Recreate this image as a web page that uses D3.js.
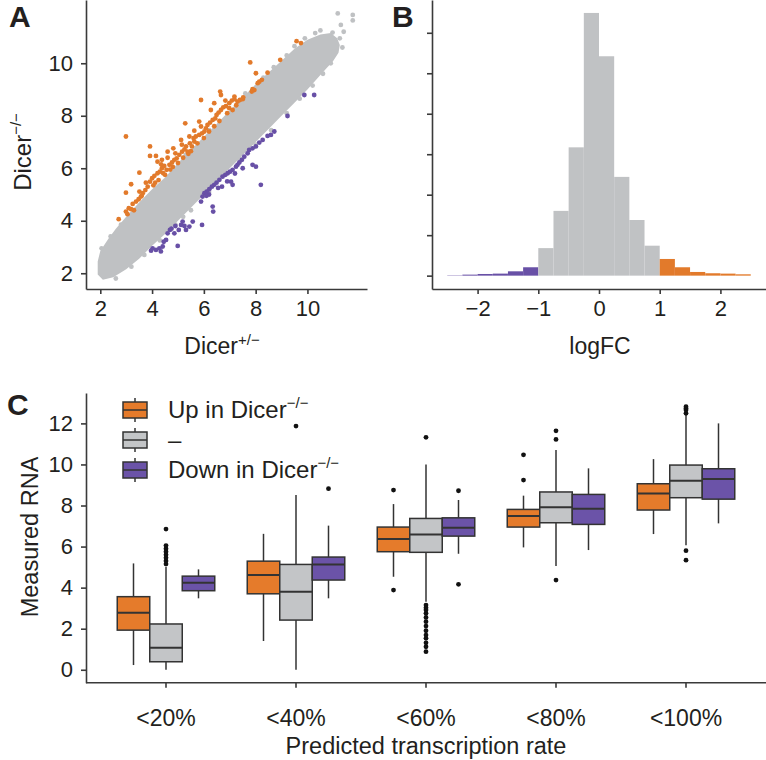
<!DOCTYPE html>
<html><head><meta charset="utf-8">
<script src="https://cdn.jsdelivr.net/npm/d3@7"></script>
<style>
body{margin:0;background:#fff}
svg{display:block}
text{font-family:"Liberation Sans",Arial,Helvetica,sans-serif;fill:#231f20}
.axis path,.axis line{stroke:#3a3a3a;stroke-width:1.6}
</style>
</head><body><svg id="c" width="766" height="760"></svg>
<script>
// ---------- DATA ----------
// Panel A: scatter (Dicer+/- vs Dicer-/-)
const greyBandUpper = [[1.9,2.45],[2.0,2.85],[2.3,3.3],[2.6,3.7],[3.0,4.15],[3.5,4.7],[4.0,5.2],[4.5,5.65],[5.0,6.2],[5.5,6.7],[6.0,7.2],[6.5,7.7],[7.0,8.2],[7.5,8.7],[8.0,9.2],[8.5,9.65],[9.0,10.1],[9.5,10.55],[10.0,10.9],[10.5,11.1],[10.9,11.15],[11.15,10.95],[11.25,10.7]];
const greyBandLower = [[11.2,10.4],[11.0,10.1],[10.5,9.55],[10.0,9.0],[9.5,8.5],[9.0,8.0],[8.5,7.5],[8.0,7.0],[7.5,6.5],[7.0,6.0],[6.5,5.5],[6.0,5.0],[5.5,4.5],[5.0,4.0],[4.5,3.5],[4.0,3.05],[3.5,2.55],[3.0,2.15],[2.5,1.85],[2.1,1.75],[1.9,1.95]];
const greyPoints = [[2.05,2.95],[2.4,3.4],[2.8,3.85],[3.3,4.4],[8.3,9.45],[8.7,9.85],[9.2,10.3],[9.5,10.65],[9.9,10.95],[10.3,11.15],[10.5,11.25],[6.2,7.45],[5.3,6.5],[7.6,8.85],
 [2.6,1.8],[3.2,2.25],[3.7,2.7],[4.3,3.25],[4.9,3.85],[5.5,4.4],[6.2,5.1],[6.8,5.75],[7.4,6.35],[8.0,6.9],[8.6,7.45],[9.2,8.1],[9.7,8.65],[10.2,9.15],[10.6,9.6],[10.9,10.0],[5.2,4.15],[7.7,6.65],
 [11.17,11.9],[11.75,11.84],[11.75,11.63],[11.29,11.46],[11.25,10.95],[10.97,11.17],[11.4,11.2],[11.35,10.6],[11.0,10.45]];
const upPoints = [[2.71,4.06],[2.99,4.35],[3.10,4.48],[3.19,4.44],[3.25,4.64],[3.38,4.73],[3.48,4.82],[3.57,4.92],[3.51,5.11],[3.64,5.05],[3.74,5.17],[3.83,5.30],[3.76,5.45],[3.92,5.49],[4.00,5.62],[4.09,5.71],[4.12,5.45],[4.21,5.81],[4.30,5.87],[4.38,6.00],[4.47,6.09],[4.43,5.81],[4.56,5.94],[4.67,6.13],[4.77,6.22],[4.86,6.32],[4.95,6.38],[4.90,6.57],[5.05,6.51],[5.16,6.63],[5.25,6.72],[5.31,6.83],[5.37,6.63],[5.46,6.95],[5.54,6.83],[5.63,7.02],[5.69,7.21],[5.82,7.27],[5.93,7.33],[6.02,7.40],[5.89,7.59],[6.08,7.52],[6.14,7.65],[6.24,7.74],[6.34,7.84],[6.44,7.90],[6.49,8.03],[6.57,8.12],[6.66,8.22],[6.75,8.32],[6.85,8.37],[6.98,8.48],[7.08,8.58],[7.18,8.63],[7.30,8.54],[7.39,8.60],[6.98,8.29],[7.11,8.22],
 [2.99,7.21],[2.99,5.07],[3.19,5.39],[3.51,5.83],[3.92,6.83],[3.92,6.47],[4.15,6.47],[4.21,6.25],[4.38,6.32],[4.60,6.63],[4.82,6.76],[5.12,7.08],[5.28,7.71],[5.44,7.21],[5.63,7.43],[5.82,7.78],[5.89,8.60],[6.27,8.22],[6.40,8.48],[6.63,8.92],[6.66,8.79],[6.83,8.58],[7.18,8.73],[7.50,8.63],[7.79,10.03],[7.95,8.98],[8.14,9.30],[8.24,9.37],[8.46,9.64],[8.95,10.13],[9.58,10.84],[9.75,10.77],[7.88,9.01],[8.08,9.24],[8.01,9.62],[7.85,8.92],[7.52,8.70],
 [3.30,4.40],[3.05,4.25],[3.6,4.95],[4.05,5.35],[4.25,5.55],[4.5,5.75],[4.7,5.95],[4.8,6.05],[5.0,6.2],[5.2,6.4],[5.4,6.55],[5.5,6.65],[5.75,6.95],[6.0,7.15],[6.2,7.4],[6.4,7.6],[6.6,7.8],[6.9,8.1],[7.25,8.4],[4.35,6.15],[4.6,6.4],[5.15,6.9],[5.6,7.15]];
const downPoints = [[9.88,8.79],[10.26,8.79],[9.23,7.99],[8.72,7.40],[8.59,7.27],[8.46,7.23],[8.27,7.08],[8.14,6.98],[8.01,6.83],[7.88,6.76],[7.75,6.70],[7.69,6.57],[7.56,6.44],[7.47,6.32],[7.37,6.22],[7.30,6.13],[7.24,6.06],[7.11,5.94],[7.01,5.87],[6.92,5.81],[6.83,5.75],[6.72,5.68],[6.60,5.56],[6.49,5.45],[6.40,5.37],[6.31,5.30],[6.21,5.20],[6.11,5.11],[6.02,5.05],[5.95,4.92],[5.89,4.73],[6.34,4.54],[6.36,4.35],[5.93,3.84],[5.57,3.97],[5.44,3.78],[5.31,3.65],[5.18,3.97],[5.12,3.84],[5.03,3.65],[4.86,3.52],[4.69,3.65],[4.60,3.52],[4.54,3.27],[4.41,3.02],[4.28,2.95],[4.15,2.89],[4.02,2.95],[3.96,2.86],[4.34,2.83],[4.99,3.04],[7.88,6.13],[8.01,6.06],[8.20,5.37],[7.05,5.49],[7.11,5.37],[7.5,6.0],[7.2,5.8],[6.7,5.3],[6.9,5.5],[6.55,5.25],[6.2,5.0],[6.1,4.95],[4.75,3.7],[4.9,3.8],[4.45,3.2],[5.25,3.8]];
const ticksA = [2,4,6,8,10];

// Panel B: histogram of logFC (bin start, count)
const binStarts = [-2.5,-2.25,-2.0,-1.75,-1.5,-1.25,-1.0,-0.75,-0.5,-0.25,0,0.25,0.5,0.75,1.0,1.25,1.5,1.75,2.0,2.25];
const binCounts = [8,25,41,50,107,207,680,1600,3170,6490,5420,2440,1375,740,412,207,91,59,50,33];
const binWidth = 0.25;
const ticksBx = [-2,-1,0,1,2];
const ticksBy = [0,1000,2000,3000,4000,5000,6000];

// Panel C: boxplots [lowWhisker, q1, median, q3, highWhisker]
const categories = ["<20%","<40%","<60%","<80%","<100%"];
const seriesNames = ["up","none","down"];
const upStats = [[0.23,1.93,2.78,3.56,5.18],[1.40,3.70,4.61,5.29,6.62],[4.53,5.75,6.37,6.95,8.07],[5.96,6.95,7.49,7.81,8.48],[6.61,7.78,8.59,9.06,10.26]];
const noneStats = [[0.0,0.39,1.07,2.23,5.0],[0.0,2.42,3.80,5.13,8.51],[3.31,5.72,6.59,7.37,10.0],[5.05,7.16,7.91,8.66,10.70],[6.07,8.38,9.21,9.97,12.41]];
const downStats = [[3.48,3.85,4.24,4.56,4.89],[3.48,4.37,5.13,5.49,7.02],[5.65,6.51,6.92,7.40,8.27],[5.83,7.08,7.84,8.54,9.81],[7.13,8.31,9.29,9.79,12.0]];
const upOutliers = [[],[],[8.75,3.88],[9.24,10.47],[]];
const noneOutliers = [[5.15,5.3,5.45,5.6,5.75,5.9,6.05,6.85],[11.87],[11.32,3.15,3.02,2.91,2.75,2.55,2.34,2.13,1.90,1.69,1.53,1.31,1.12,0.88],[11.22,11.64,4.37],[12.49,12.65,12.73,12.81,5.80,5.34]];
const downOutliers = [[],[8.82],[8.72,4.16],[],[]];
const ticksCy = [0,2,4,6,8,10,12];
const legendLabels = ["Up in Dicer","\u2013","Down in Dicer"];

// colors
const cOrange = "#e27a2b", cGrey = "#bfc1c3", cPurple = "#6850a6";
const boxFill = {up:"#e57b2b", none:"#c3c5c7", down:"#6b53a8"};

// ---------- DRAW ----------
const svg = d3.select("#c");

function styleAxis(g, fs){
  g.attr("class","axis");
  g.selectAll("text").style("font-size",fs+"px").attr("fill","#231f20");
}

// Panel A
const xA = d3.scaleLinear().domain([1.448,12.3]).range([86,367]);
const yA = d3.scaleLinear().domain([1.40,12.41]).range([289,0]);
const gA = svg.append("g");
const band = greyBandUpper.concat(greyBandLower);
gA.append("path").attr("d", d3.line().x(d=>xA(d[0])).y(d=>yA(d[1])).curve(d3.curveLinearClosed)(band))
  .attr("fill", cGrey);
gA.selectAll("circle.g").data(greyPoints).join("circle").attr("class","g")
  .attr("cx",d=>xA(d[0])).attr("cy",d=>yA(d[1])).attr("r",2.4).attr("fill",cGrey);
gA.selectAll("circle.u").data(upPoints).join("circle").attr("class","u")
  .attr("cx",d=>xA(d[0])).attr("cy",d=>yA(d[1])).attr("r",2.4).attr("fill",cOrange);
gA.selectAll("circle.d").data(downPoints).join("circle").attr("class","d")
  .attr("cx",d=>xA(d[0])).attr("cy",d=>yA(d[1])).attr("r",2.4).attr("fill",cPurple);
gA.append("g").attr("transform","translate(0,289)")
  .call(d3.axisBottom(xA).tickValues(ticksA).tickSize(5).tickSizeOuter(0).tickPadding(6))
  .call(g=>styleAxis(g,22));
gA.append("g").attr("transform","translate(86,0)")
  .call(d3.axisLeft(yA).tickValues(ticksA).tickSize(5).tickSizeOuter(0).tickPadding(8))
  .call(g=>styleAxis(g,22));
// titles A
const tA = gA.append("text").attr("x",222).attr("y",354).attr("text-anchor","middle").style("font-size","23px");
tA.append("tspan").text("Dicer");
tA.append("tspan").text("+/\u2212").attr("dy",-9).style("font-size","15px");
const tAy = gA.append("text").attr("transform","translate(31,152) rotate(-90)").attr("text-anchor","middle").style("font-size","24px");
tAy.append("tspan").text("Dicer");
tAy.append("tspan").text("\u2212/\u2212").attr("dy",-10).style("font-size","15px");
svg.append("text").attr("x",9).attr("y",27).text("A").style("font-size","30px").style("font-weight","bold");

// Panel B
const xB = d3.scaleLinear().domain([-2.751,2.751]).range([432,766]);
const yB = d3.scaleLinear().domain([-330,6810]).range([289,0]);
const gB = svg.append("g");
const binColor = s => (s + binWidth <= -1 + 1e-9) ? cPurple : (s >= 1 - 1e-9 ? cOrange : "#c0c2c4");
gB.selectAll("rect").data(binStarts.map((s,i)=>({s,c:binCounts[i]}))).join("rect")
  .attr("x",d=>xB(d.s)).attr("width",d=>xB(d.s+binWidth)-xB(d.s))
  .attr("y",d=>yB(d.c)).attr("height",d=>yB(0)-yB(d.c))
  .attr("fill",d=>binColor(d.s));
gB.append("g").attr("transform","translate(0,289)")
  .call(d3.axisBottom(xB).tickValues(ticksBx).tickFormat(d=>d<0?"\u2212"+Math.abs(d):d).tickSize(5).tickSizeOuter(0).tickPadding(6))
  .call(g=>styleAxis(g,22));
gB.append("g").attr("transform","translate(432,0)")
  .call(d3.axisLeft(yB).tickValues(ticksBy).tickFormat("").tickSize(5).tickSizeOuter(0))
  .call(g=>styleAxis(g,22));
gB.append("text").attr("x",600).attr("y",354).attr("text-anchor","middle").style("font-size","23px").text("logFC");
svg.append("text").attr("x",392).attr("y",27).text("B").style("font-size","30px").style("font-weight","bold");

// Panel C
const xC = d3.scaleBand().domain(categories).range([101,751]);
const xSub = d3.scaleBand().domain(seriesNames).range([-48.75,48.75]);
const yC = d3.scaleLinear().domain([-0.63,13.48]).range([682.7,393]);
const gC = svg.append("g");
const statsBy = {up:upStats, none:noneStats, down:downStats};
const outBy = {up:upOutliers, none:noneOutliers, down:downOutliers};
const boxes = [];
categories.forEach((c,i)=>seriesNames.forEach(s=>boxes.push({c,s,st:statsBy[s][i],out:outBy[s][i]})));
const bx = gC.selectAll("g.box").data(boxes).join("g").attr("class","box")
  .attr("transform",d=>`translate(${xC(d.c)+xC.bandwidth()/2+xSub(d.s)},0)`);
const bw = xSub.bandwidth();
bx.append("line").attr("x1",bw/2).attr("x2",bw/2).attr("y1",d=>yC(d.st[0])).attr("y2",d=>yC(d.st[4]))
  .attr("stroke","#333").attr("stroke-width",1.5);
bx.append("rect").attr("x",0).attr("width",bw).attr("y",d=>yC(d.st[3])).attr("height",d=>yC(d.st[1])-yC(d.st[3]))
  .attr("fill",d=>boxFill[d.s]).attr("stroke","#333").attr("stroke-width",1.5);
bx.append("line").attr("x1",0).attr("x2",bw).attr("y1",d=>yC(d.st[2])).attr("y2",d=>yC(d.st[2]))
  .attr("stroke","#333").attr("stroke-width",2);
bx.selectAll("circle").data(d=>d.out).join("circle").attr("cx",bw/2).attr("cy",v=>yC(v)).attr("r",2.4).attr("fill","#111");
gC.append("g").attr("transform","translate(0,682.7)")
  .call(d3.axisBottom(xC).tickSize(5).tickSizeOuter(0).tickPadding(22))
  .call(g=>styleAxis(g,23))
  .call(g=>g.select(".domain").attr("d","M86,0H766"));
gC.append("g").attr("transform","translate(86,0)")
  .call(d3.axisLeft(yC).tickValues(ticksCy).tickSize(5).tickSizeOuter(0).tickPadding(8))
  .call(g=>styleAxis(g,22));
gC.append("text").attr("x",426).attr("y",754).attr("text-anchor","middle").style("font-size","23.5px").text("Predicted transcription rate");
gC.append("text").attr("transform","translate(38,537) rotate(-90)").attr("text-anchor","middle").style("font-size","23.5px").text("Measured RNA");
svg.append("text").attr("x",7).attr("y",415).text("C").style("font-size","30px").style("font-weight","bold");

// Legend
const lg = gC.selectAll("g.leg").data(seriesNames).join("g").attr("class","leg")
  .attr("transform",(d,i)=>`translate(123,${410 + i*30})`);
lg.append("line").attr("x1",12).attr("x2",12).attr("y1",-12).attr("y2",12).attr("stroke","#333").attr("stroke-width",1.5);
lg.append("rect").attr("x",0).attr("y",-8).attr("width",24).attr("height",16).attr("fill",d=>boxFill[d]).attr("stroke","#333").attr("stroke-width",1.5);
lg.append("line").attr("x1",0).attr("x2",24).attr("y1",0).attr("y2",0).attr("stroke","#333").attr("stroke-width",1.5);
const lt = lg.append("text").attr("x",45).attr("y",8).style("font-size","24px");
lt.append("tspan").text((d,i)=>legendLabels[i]);
lt.filter((d,i)=>i!==1).append("tspan").text("\u2212/\u2212").attr("dy",-10).style("font-size","15px");
</script></body></html>
